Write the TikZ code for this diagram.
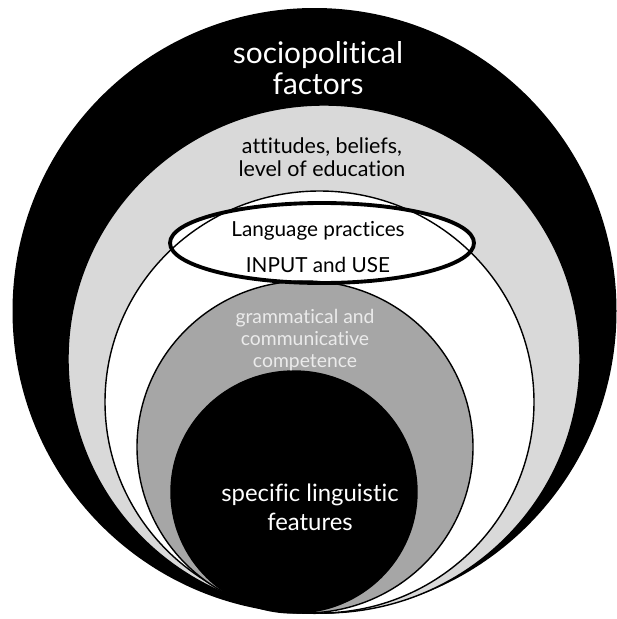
\documentclass[tikz,border=0pt]{standalone}
\usepackage{fontspec}
\setmainfont{Lato}[Ligatures={NoCommon, NoRequired, NoContextual, NoRare, NoDiscretionary}, Contextuals=NoAlternate]
\usetikzlibrary{calc, positioning}

\begin{document}
\begin{tikzpicture}[%
    x=0.02cm, y=-0.02cm,  % pixel grid of the layout
    every node/.style={align=center, inner sep=0pt},
    ring/.style={draw=black, line width=0.8pt},
    darklabel/.style={text=white},
    greylabel/.style={text=black!8},
    plainlabel/.style={text=black},
    ]

\useasboundingbox (0,0) rectangle (616,619);

%==================================================
% Coordinates
%==================================================
\coordinate (C0) at (314.5,311);
\coordinate (C1) at (324,359);
\coordinate (C2) at (319.5,402);
\coordinate (C3) at (305,447);
\coordinate (C4) at (294,492);
\coordinate (CE) at (322,243);

%==================================================
% Circles
%==================================================
\fill[black] (C0) ellipse [x radius=302, y radius=303];
\filldraw[ring, fill=black!15] (C1) ellipse [x radius=256, y radius=254];
\fill[white] (C2) ellipse [x radius=214.5, y radius=211];
\fill[white] (CE) ellipse [x radius=152, y radius=40];
\draw[ring] (C2) ellipse [x radius=214.5, y radius=211];
\filldraw[ring, fill=black!35] (C3) ellipse [x radius=168, y radius=166];
\filldraw[ring, fill=black] (C4) ellipse [x radius=123, y radius=121];

% Language practices
\draw[line width=2.2pt] (CE) ellipse [x radius=152, y radius=40];

%==================================================
% Labels
%==================================================
\node[darklabel, font=\fontsize{17}{18}\selectfont] (socio) at (318,68)
    {sociopolitical\\factors};
\node[plainlabel, font=\fontsize{12.2}{13}\selectfont] (attitudes) at (322,157)
    {attitudes, beliefs,\\level of education};
\node[plainlabel, font=\fontsize{11.8}{20}\selectfont] (practices) at (318,247)
    {Language practices\\INPUT and USE};
\node[greylabel, font=\fontsize{11}{12.5}\selectfont] (competence) at (305,340)
    {grammatical and\\communicative\\competence};
\node[darklabel, font=\fontsize{13.6}{16.4}\selectfont] (features) at (310,507)
    {specific linguistic\\features};

\end{tikzpicture}
\end{document}
